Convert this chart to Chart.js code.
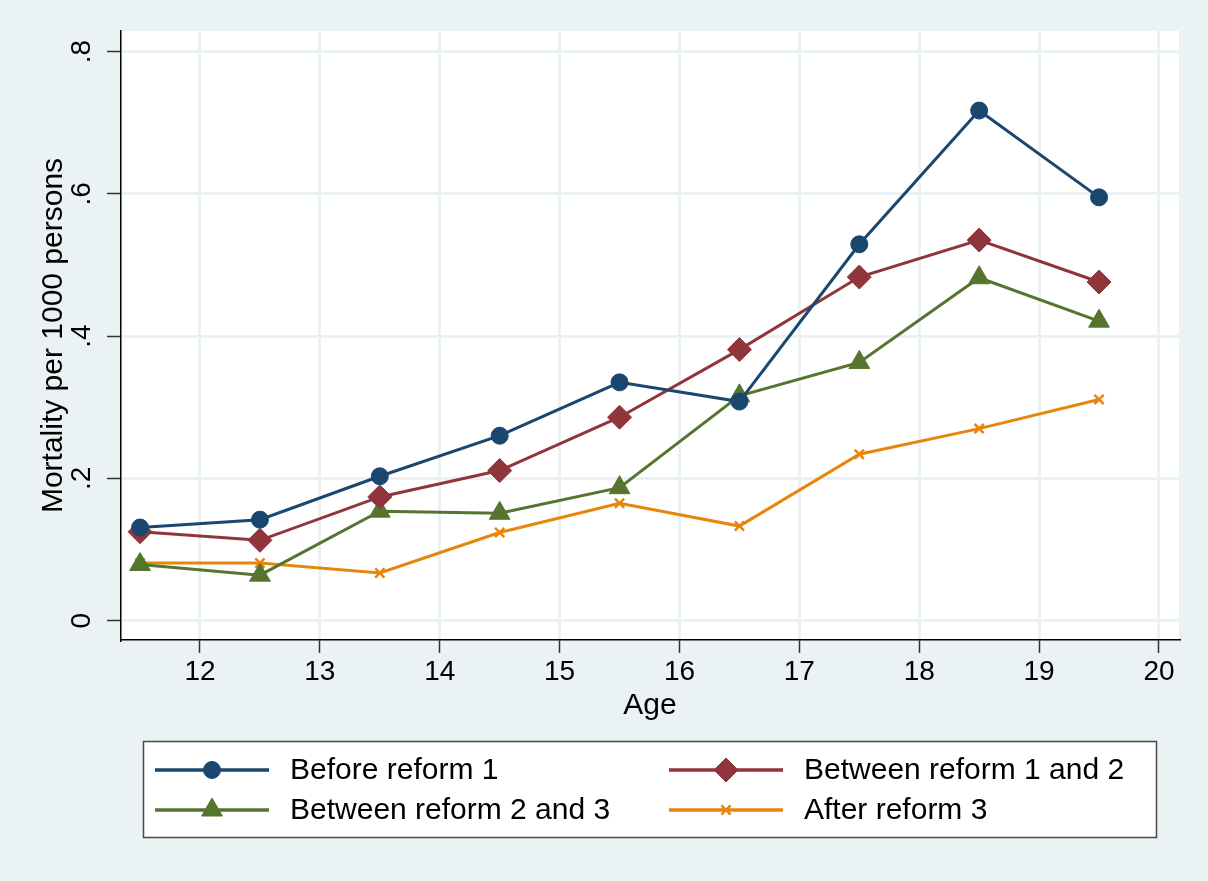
<!DOCTYPE html>
<html>
<head>
<meta charset="utf-8">
<script src="https://cdn.jsdelivr.net/npm/chart.js@4/dist/chart.umd.min.js"></script>
<style>
  html, body { margin: 0; padding: 0; background: #EAF2F3; }
  #wrap { width: 1208px; height: 881px; }
</style>
</head>
<body>
<div id="wrap"><canvas id="c" width="1208" height="881"></canvas></div>
<script>
// Mortality per 1000 persons by age, for four reform periods
const ages = [11.5, 12.5, 13.5, 14.5, 15.5, 16.5, 17.5, 18.5, 19.5];
const beforeReform1 = [0.131, 0.142, 0.203, 0.260, 0.335, 0.308, 0.529, 0.717, 0.595];
const betweenReform1And2 = [0.125, 0.113, 0.174, 0.211, 0.286, 0.381, 0.483, 0.535, 0.476];
const betweenReform2And3 = [0.079, 0.064, 0.154, 0.151, 0.187, 0.316, 0.363, 0.482, 0.421];
const afterReform3 = [0.081, 0.081, 0.067, 0.124, 0.165, 0.133, 0.234, 0.270, 0.311];

const seriesNames = ['Before reform 1', 'Between reform 1 and 2', 'Between reform 2 and 3', 'After reform 3'];
const xTicks = [12, 13, 14, 15, 16, 17, 18, 19, 20];
const yTicks = [0, 0.2, 0.4, 0.6, 0.8];
const yTickLabels = ['0', '.2', '.4', '.6', '.8'];

const FONT = "'Liberation Sans', Arial, sans-serif";
Chart.defaults.font.family = FONT;
Chart.defaults.color = '#000';

const toPoints = vals => ages.map((a, i) => ({ x: a, y: vals[i] }));

// Light graph region with a white plot region
const panelBackground = {
  id: 'panelBackground',
  beforeDraw(chart) {
    const { ctx, chartArea: a, width, height } = chart;
    ctx.save();
    ctx.fillStyle = '#EAF2F3';
    ctx.fillRect(0, 0, width, height);
    ctx.fillStyle = '#FFFFFF';
    ctx.fillRect(a.left, a.top, a.right - a.left, a.bottom - a.top);
    ctx.restore();
  }
};

// Boxed two-column key below the plot
const keyBox = {
  id: 'keyBox',
  afterDraw(chart, args, opts) {
    const ctx = chart.ctx;
    ctx.save();
    ctx.fillStyle = '#FFFFFF';
    ctx.fillRect(opts.box.x, opts.box.y, opts.box.w, opts.box.h);
    ctx.strokeStyle = '#4a4a4a';
    ctx.lineWidth = 1.5;
    ctx.strokeRect(opts.box.x, opts.box.y, opts.box.w, opts.box.h);
    chart.data.datasets.forEach((ds, i) => {
      const x0 = opts.colX[i % 2];
      const y = opts.rowY[Math.floor(i / 2)];
      ctx.strokeStyle = ds.borderColor;
      ctx.lineWidth = 3.5;
      ctx.beginPath();
      ctx.moveTo(x0, y);
      ctx.lineTo(x0 + opts.lineLen, y);
      ctx.stroke();
      ctx.fillStyle = ds.pointBackgroundColor;
      ctx.strokeStyle = ds.pointBorderColor;
      ctx.lineWidth = ds.pointBorderWidth;
      Chart.helpers.drawPoint(ctx, {
        pointStyle: ds.pointStyle, radius: ds.pointRadius,
        borderWidth: ds.pointBorderWidth, rotation: 0
      }, x0 + opts.lineLen / 2, y);
      ctx.fillStyle = '#000';
      ctx.font = '30px ' + FONT;
      ctx.textAlign = 'left';
      ctx.textBaseline = 'middle';
      ctx.fillText(ds.label, x0 + opts.textGap, y + 1);
    });
    ctx.restore();
  }
};

const colors = ['#1A476F', '#90353B', '#55752F', '#E8850C'];
const styles = [
  { pointStyle: 'circle', pointRadius: 8.5, pointBorderWidth: 1 },
  { pointStyle: 'rectRot', pointRadius: 12, pointBorderWidth: 1 },
  { pointStyle: 'triangle', pointRadius: 12, pointBorderWidth: 1 },
  { pointStyle: 'crossRot', pointRadius: 6.5, pointBorderWidth: 2.5 }
];
const seriesValues = [beforeReform1, betweenReform1And2, betweenReform2And3, afterReform3];

const datasets = seriesValues.map((vals, i) => ({
  label: seriesNames[i],
  data: toPoints(vals),
  borderColor: colors[i],
  backgroundColor: colors[i],
  pointBackgroundColor: colors[i],
  pointBorderColor: colors[i],
  borderWidth: 3,
  tension: 0,
  pointStyle: styles[i].pointStyle,
  pointRadius: styles[i].pointRadius,
  pointBorderWidth: styles[i].pointBorderWidth,
  clip: false
}));

new Chart(document.getElementById('c'), {
  type: 'line',
  data: { datasets },
  plugins: [panelBackground, keyBox],
  options: {
    responsive: false,
    animation: false,
    layout: { padding: { left: 0, top: 31, right: 29, bottom: 141 } },
    plugins: {
      legend: { display: false },
      tooltip: { enabled: false },
      keyBox: {
        box: { x: 143.5, y: 741.5, w: 1013, h: 96 },
        colX: [155, 669],
        rowY: [770, 810],
        lineLen: 114,
        textGap: 135
      }
    },
    scales: {
      x: {
        type: 'linear',
        min: 11.341,
        max: 20.167,
        afterFit(s) { s.height = 100; },
        afterBuildTicks(s) { s.ticks = xTicks.map(v => ({ value: v })); },
        ticks: { color: '#000', font: { size: 28 }, padding: 2, maxRotation: 0, callback: v => String(v) },
        grid: { color: '#EAF2F3', lineWidth: 3, tickLength: 13, tickColor: '#333', tickWidth: 1.5 },
        border: { display: true, color: '#000', width: 1.5 },
        title: { display: true, text: 'Age', color: '#000', font: { size: 30 }, padding: { top: 0, bottom: 16 } }
      },
      y: {
        type: 'linear',
        min: -0.0271,
        max: 0.8288,
        afterFit(s) { s.width = 121; },
        afterBuildTicks(s) { s.ticks = yTicks.map(v => ({ value: v })); },
        ticks: {
          color: '#000', font: { size: 28 }, padding: 13,
          minRotation: 90, maxRotation: 90, crossAlign: 'center',
          callback: (v, i) => yTickLabels[i]
        },
        grid: { color: '#EAF2F3', lineWidth: 3, tickLength: 14, tickColor: '#333', tickWidth: 1.5 },
        border: { display: true, color: '#000', width: 1.5 },
        title: { display: true, text: 'Mortality per 1000 persons', color: '#000', font: { size: 30 }, padding: { top: 36, bottom: 0 } }
      }
    }
  }
});
</script>
</body>
</html>
